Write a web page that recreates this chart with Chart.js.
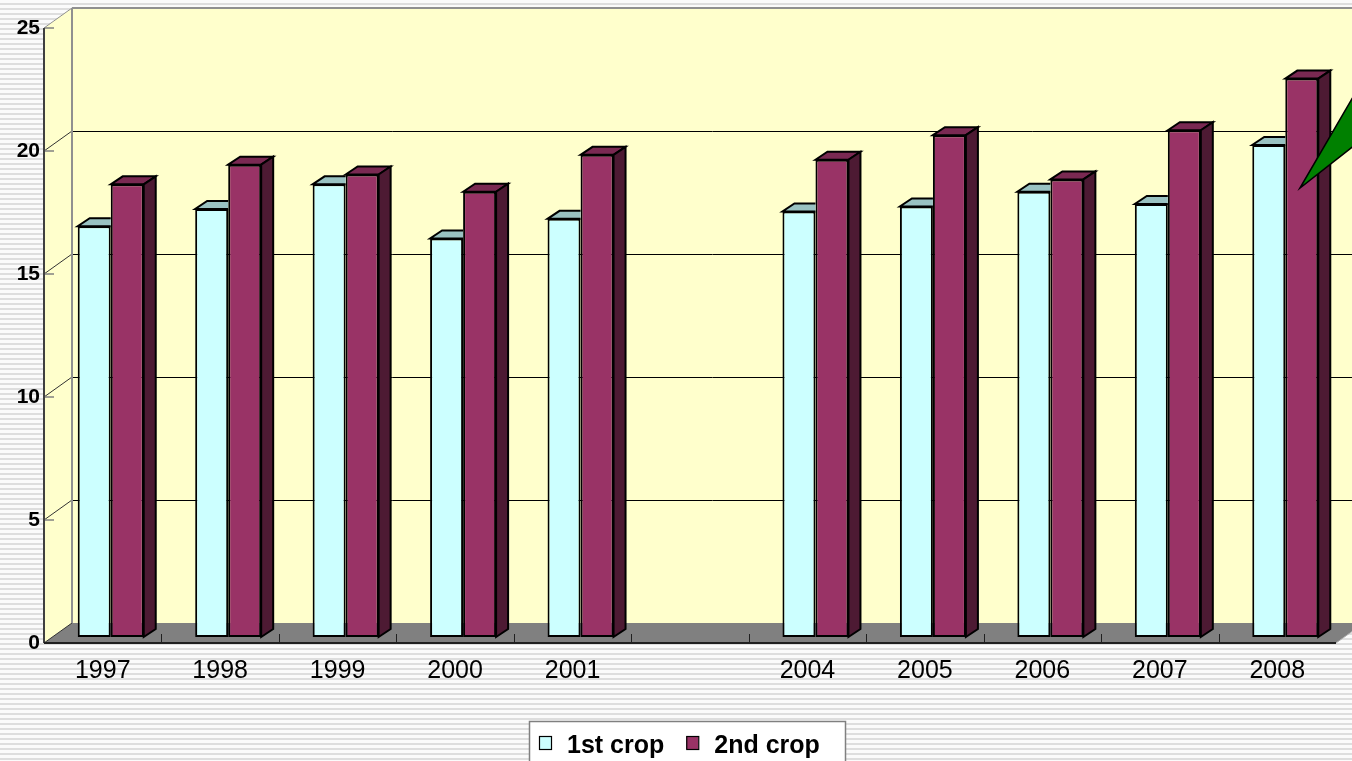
<!DOCTYPE html>
<html lang="en">
<head>
  <meta charset="UTF-8">
  <title>1st and 2nd crop</title>
  <script src="https://cdn.jsdelivr.net/npm/chart.js"></script>
  <style>
    html, body {
      margin: 0;
      padding: 0;
      width: 1352px;
      height: 761px;
      overflow: hidden;
      background: repeating-linear-gradient(to bottom, #fbfbfb 0px, #fbfbfb 3px, #dedede 3px, #dedede 5px);
    }
    canvas {
      display: block;
    }
  </style>
</head>
<body>
  <canvas id="cropChart" width="1352" height="761"></canvas>

  <script>
    const years = ['1997', '1998', '1999', '2000', '2001', '', '2004', '2005', '2006', '2007', '2008'];
    const firstCrop = [16.7, 17.4, 18.4, 16.2, 17.0, null, 17.3, 17.5, 18.1, 17.6, 20.0];
    const secondCrop = [18.4, 19.2, 18.8, 18.1, 19.6, null, 19.4, 20.4, 18.6, 20.6, 22.7];
    const yTicks = [0, 5, 10, 15, 20, 25];

    const FONT = "Arial, 'Liberation Sans', sans-serif";
    // 3D depth of the walls and of the bars
    const WALL_DX = 28, WALL_DY = -20;
    const BAR_SHIFT_X = 8, BAR_SHIFT_Y = -6;
    const BAR_DX = 12, BAR_DY = -8;

    const faceColors = [
      { top: '#99c2c2', side: '#6b9999' },
      { top: '#7a2952', side: '#4d1a33' }
    ];

    function poly(ctx, pts, fill, stroke, lw) {
      ctx.beginPath();
      ctx.moveTo(pts[0][0], pts[0][1]);
      for (let i = 1; i < pts.length; i++) ctx.lineTo(pts[i][0], pts[i][1]);
      ctx.closePath();
      if (fill) { ctx.fillStyle = fill; ctx.fill(); }
      if (stroke) { ctx.strokeStyle = stroke; ctx.lineWidth = lw || 1; ctx.stroke(); }
    }

    function line(ctx, x1, y1, x2, y2, color, lw) {
      ctx.beginPath();
      ctx.moveTo(x1, y1);
      ctx.lineTo(x2, y2);
      ctx.strokeStyle = color;
      ctx.lineWidth = lw || 1;
      ctx.stroke();
    }

    // walls, floor and gridlines
    const wallsPlugin = {
      id: 'walls',
      beforeDraw(chart) {
        const ctx = chart.ctx;
        const { left, right, top, bottom } = chart.chartArea;
        const y = chart.scales.y, x = chart.scales.x;
        const farRight = chart.width + 40;
        ctx.save();
        // back wall
        ctx.fillStyle = '#ffffcc';
        ctx.fillRect(left + WALL_DX, top + WALL_DY, farRight, bottom - top);
        // left wall
        poly(ctx, [[left, top], [left + WALL_DX, top + WALL_DY], [left + WALL_DX, bottom + WALL_DY], [left, bottom]], '#ffffcc');
        // floor
        poly(ctx, [[left, bottom], [left + WALL_DX, bottom + WALL_DY], [right + WALL_DX, bottom + WALL_DY], [right, bottom]], '#808080');

        // gridlines on the back wall and diagonals on the left wall
        yTicks.forEach(v => {
          const py = y.getPixelForValue(v);
          if (v > 0 && v < 25) {
            line(ctx, left + WALL_DX, py + WALL_DY + 0.5, farRight, py + WALL_DY + 0.5, '#000', 1);
          }
          line(ctx, left, py, left + WALL_DX, py + WALL_DY, v === 25 ? '#909090' : '#333', 1);
          line(ctx, left, py, left + 10, py, '#808080', 1.5);
        });
        // wall edges
        line(ctx, left + WALL_DX, top + WALL_DY, farRight, top + WALL_DY, '#909090', 2);
        line(ctx, left + WALL_DX, top + WALL_DY, left + WALL_DX, bottom + WALL_DY, '#909090', 2);
        line(ctx, left, top, left, bottom, '#404040', 2);
        // floor front edge and ticks
        line(ctx, left, bottom, right, bottom, '#202020', 2);
        line(ctx, right, bottom, right + WALL_DX, bottom + WALL_DY, '#b0b0b0', 1);
        for (let i = 1; i < years.length; i++) {
          const px = Math.round((x.getPixelForValue(i - 1) + x.getPixelForValue(i)) / 2) + 0.5;
          line(ctx, px, bottom, px, bottom - 9, '#202020', 1);
        }
        ctx.restore();
      },
      beforeDatasetsDraw(chart) {
        chart.ctx.save();
        chart.ctx.translate(BAR_SHIFT_X, BAR_SHIFT_Y);
      },
      // Chart.js draws the last dataset first, so the front bars (1st crop)
      // only show the part of their top that is left of the 2nd crop bar
      afterDatasetDraw(chart, args) {
        const ctx = chart.ctx;
        const colors = faceColors[args.index];
        const isLast = args.index === chart.data.datasets.length - 1;
        args.meta.data.forEach((bar, i) => {
          const raw = chart.data.datasets[args.index].data[i];
          if (raw === null) return;
          const p = bar.getProps(['x', 'y', 'base', 'width'], true);
          const L = p.x - p.width / 2, R = p.x + p.width / 2, T = p.y, B = p.base;
          if (isLast) {
            poly(ctx, [[L, T], [L + BAR_DX, T + BAR_DY], [R + BAR_DX, T + BAR_DY], [R, T]], colors.top, '#000', 2);
            poly(ctx, [[R, T], [R + BAR_DX, T + BAR_DY], [R + BAR_DX, B + BAR_DY], [R, B]], colors.side, '#000', 2);
          } else {
            poly(ctx, [[L, T], [L + BAR_DX, T + BAR_DY], [R, T + BAR_DY], [R, T]], colors.top, null);
            ctx.beginPath();
            ctx.moveTo(R, T);
            ctx.lineTo(L, T);
            ctx.lineTo(L + BAR_DX, T + BAR_DY);
            ctx.lineTo(R, T + BAR_DY);
            ctx.strokeStyle = '#000';
            ctx.lineWidth = 2;
            ctx.stroke();
          }
        });
      },
      afterDatasetsDraw(chart) {
        chart.ctx.restore();
      },
      afterDraw(chart) {
        const ctx = chart.ctx;
        const W = chart.width;
        ctx.save();
        // green callout wedge at top right
        poly(ctx, [[W - 52, 188], [W + 40, 30], [W + 40, 116]], '#008000', '#000', 1.5);

        // legend box
        ctx.fillStyle = '#ffffff';
        ctx.fillRect(529, 721, 316, 60);
        ctx.strokeStyle = '#808080';
        ctx.lineWidth = 1.5;
        ctx.strokeRect(529.5, 721.5, 316, 60);
        ctx.font = 'bold 25px ' + FONT;
        ctx.textBaseline = 'alphabetic';
        let lx = 539;
        chart.data.datasets.forEach(ds => {
          ctx.fillStyle = ds.backgroundColor;
          ctx.fillRect(lx, 736, 12, 13);
          ctx.strokeStyle = '#000';
          ctx.lineWidth = 1.2;
          ctx.strokeRect(lx + 0.5, 736.5, 12, 13);
          ctx.fillStyle = '#000';
          ctx.fillText(ds.label, lx + 28, 753);
          lx += ctx.measureText(ds.label).width + 50;
        });
        ctx.restore();
      }
    };

    new Chart(document.getElementById('cropChart'), {
      type: 'bar',
      data: {
        labels: years,
        datasets: [
          {
            label: '1st crop',
            data: firstCrop,
            backgroundColor: '#ccffff',
            borderColor: '#000',
            borderWidth: 2,
            borderSkipped: false,
            categoryPercentage: 0.562,
            barPercentage: 1.0
          },
          {
            label: '2nd crop',
            data: secondCrop,
            backgroundColor: '#993366',
            borderColor: '#000',
            borderWidth: 2,
            borderSkipped: false,
            categoryPercentage: 0.562,
            barPercentage: 1.0
          }
        ]
      },
      options: {
        responsive: false,
        animation: false,
        devicePixelRatio: 1,
        layout: { padding: { top: 28, right: 16, bottom: 58, left: 0 } },
        plugins: {
          legend: { display: false },
          tooltip: { enabled: false }
        },
        scales: {
          x: {
            grid: { display: false, drawTicks: false },
            border: { display: false },
            ticks: { color: '#000', font: { family: FONT, size: 25 }, padding: 13, maxRotation: 0, autoSkip: false },
            afterFit(scale) { scale.height = 60; }
          },
          y: {
            min: 0,
            max: 25,
            grid: { display: false, drawTicks: false },
            border: { display: false },
            ticks: { stepSize: 5, color: '#000', font: { family: FONT, size: 21, weight: 'bold' }, padding: 4 },
            afterFit(scale) { scale.width = 44; }
          }
        }
      },
      plugins: [wallsPlugin]
    });
  </script>
</body>
</html>
